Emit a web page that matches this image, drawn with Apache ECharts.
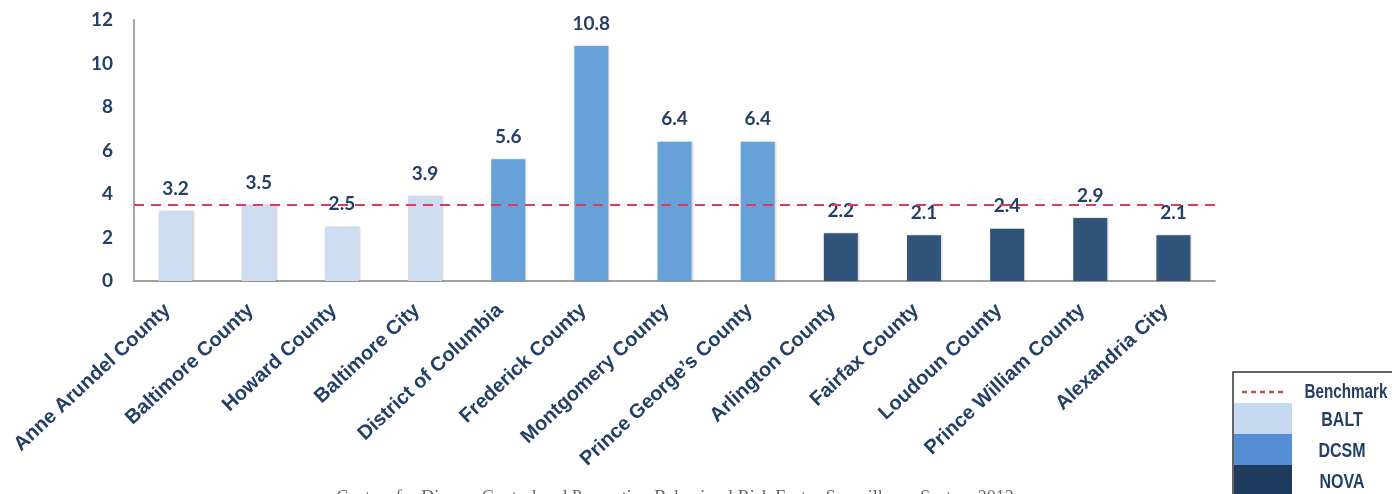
<!DOCTYPE html>
<html>
<head>
<meta charset="utf-8">
<script src="https://cdn.jsdelivr.net/npm/echarts@6/dist/echarts.min.js"></script>
<style>
html,body{margin:0;padding:0;background:#fff;}
#chart{width:1392px;height:494px;}
</style>
</head>
<body>
<div id="chart"></div>
<script>
const categories = ["Anne Arundel County","Baltimore County","Howard County","Baltimore City","District of Columbia","Frederick County","Montgomery County","Prince George\u2019s County","Arlington County","Fairfax County","Loudoun County","Prince William County","Alexandria City"];
const values = [3.2, 3.5, 2.5, 3.9, 5.6, 10.8, 6.4, 6.4, 2.2, 2.1, 2.4, 2.9, 2.1];
const groups = ["BALT","BALT","BALT","BALT","DCSM","DCSM","DCSM","DCSM","NOVA","NOVA","NOVA","NOVA","NOVA"];
const benchmark = 3.5;
const yTicks = [0, 2, 4, 6, 8, 10, 12];
const legendLabels = ["Benchmark", "BALT", "DCSM", "NOVA"];
const caption = "Centers for Disease Control and Prevention Behavioral Risk Factor Surveillance System 2012";

const barColors = { BALT: "#cddcf1", DCSM: "#66a1da", NOVA: "#33547a" };
const legendColors = { BALT: "#c6d9f1", DCSM: "#558ed5", NOVA: "#1f3b5d" };
const navy = "#243f66";

const chart = echarts.init(document.getElementById("chart"), null, { renderer: "canvas" });

const legendFont = "bold 20px 'Liberation Sans', Arial, sans-serif";
const legendGraphics = [
  { type: "rect", shape: { x: 1233, y: 372, width: 200, height: 140 }, style: { fill: "#fff", stroke: "#333", lineWidth: 1.5 }, z: 10 },
  { type: "line", shape: { x1: 1242, y1: 392, x2: 1284, y2: 392 }, style: { stroke: "#c0504d", lineWidth: 2.5, lineDash: [5, 4] }, z: 11 },
  { type: "text", x: 1346, y: 392, scaleX: 0.76, style: { text: legendLabels[0], fill: navy, font: legendFont, align: "center", verticalAlign: "middle" }, z: 11 }
];
const swY = [403, 434, 465];
["BALT", "DCSM", "NOVA"].forEach((g, i) => {
  legendGraphics.push({ type: "rect", shape: { x: 1234, y: swY[i], width: 58, height: i === 2 ? 40 : 31 }, style: { fill: legendColors[g] }, z: 11 });
  legendGraphics.push({ type: "text", x: 1342, y: swY[i] + 17, scaleX: 0.8, style: { text: legendLabels[i + 1], fill: navy, font: legendFont, align: "center", verticalAlign: "middle" }, z: 11 });
});
legendGraphics.push({ type: "text", x: 675, y: 489, style: { text: caption, fill: "#666", font: "18px 'Liberation Serif', 'DejaVu Serif', serif", align: "center", verticalAlign: "top" }, z: 5 });

const option = {
  animation: false,
  backgroundColor: "#fff",
  grid: { left: 134, right: 177, top: 20, bottom: 213, containLabel: false },
  xAxis: {
    type: "category",
    data: categories,
    axisLine: { lineStyle: { color: "#a0a0a0", width: 2 } },
    axisTick: { show: false },
    axisLabel: {
      interval: 0,
      rotate: 43,
      margin: 19,
      padding: [0, 11, 0, 0],
      color: navy,
      fontFamily: "'Liberation Sans', Arial, sans-serif",
      fontWeight: "bold",
      fontSize: 20
    }
  },
  yAxis: {
    type: "value",
    min: yTicks[0],
    max: yTicks[yTicks.length - 1],
    interval: 2,
    axisLine: { show: true, lineStyle: { color: "#a6a6a6", width: 2 } },
    axisTick: { show: false },
    splitLine: { show: false },
    axisLabel: {
      margin: 21,
      padding: [4, 0, 0, 0],
      color: navy,
      fontFamily: "Lato, 'Open Sans', sans-serif",
      fontWeight: "bold",
      fontSize: 19
    }
  },
  series: [{
    type: "bar",
    name: "Rate",
    data: values.map((v, i) => ({ value: v, itemStyle: { color: barColors[groups[i]] } })),
    barWidth: 34,
    itemStyle: { shadowColor: "rgba(0,0,0,0.2)", shadowBlur: 2, shadowOffsetX: 1, shadowOffsetY: 0 },
    label: {
      show: true,
      position: "top",
      distance: 13,
      color: navy,
      fontFamily: "Lato, 'Open Sans', sans-serif",
      fontWeight: "bold",
      fontSize: 19,
      formatter: p => p.value.toFixed(1)
    },
    markLine: {
      silent: true,
      symbol: "none",
      label: { show: false },
      lineStyle: { color: "#d6405a", type: [10, 7], width: 2 },
      data: [{ yAxis: benchmark }]
    }
  }],
  graphic: legendGraphics
};
chart.setOption(option);
</script>
</body>
</html>
